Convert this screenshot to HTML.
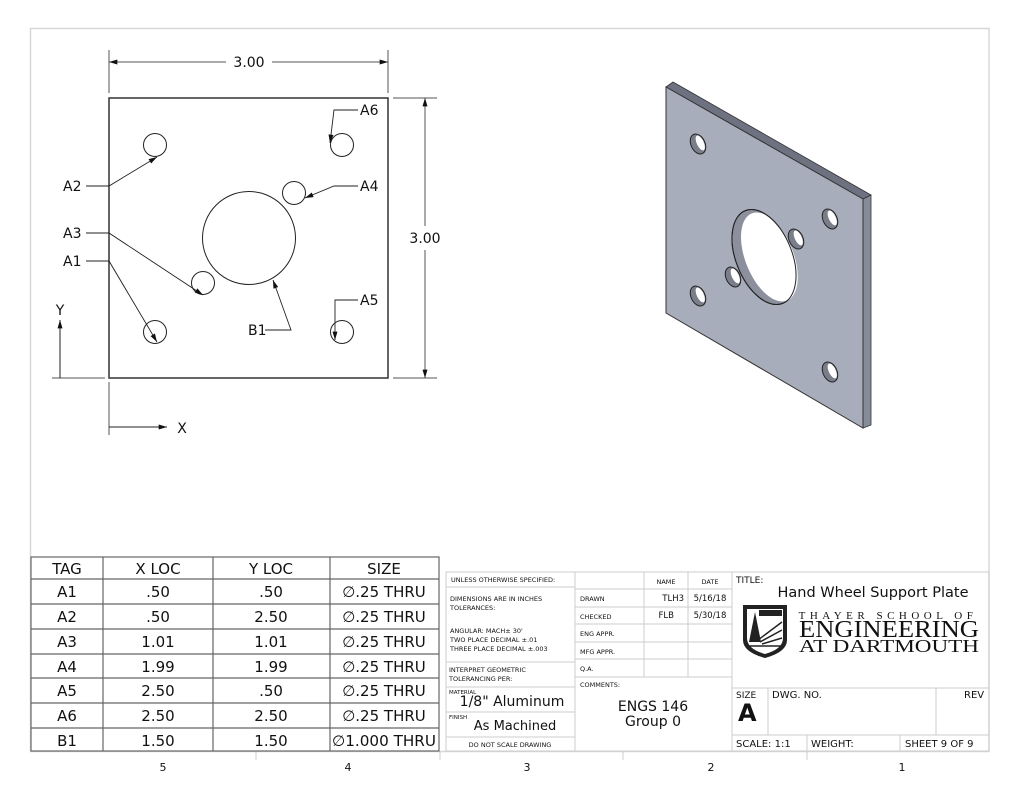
<!DOCTYPE html>
<html><head><meta charset="utf-8"><style>
html,body{margin:0;padding:0;background:#fff;}
svg{display:block;}
text{font-family:"DejaVu Sans","Liberation Sans",sans-serif;fill:#111;}
.s{font-family:"Liberation Serif",serif;}
</style></head><body>
<svg width="1024" height="791" viewBox="0 0 1024 791" xmlns="http://www.w3.org/2000/svg">
<defs>
<marker id="ar" viewBox="0 0 10 6" refX="10" refY="3" markerWidth="11" markerHeight="5" orient="auto-start-reverse" markerUnits="userSpaceOnUse"><path d="M0,0 L10,3 L0,6 z" fill="#111"/></marker>
</defs>
<!-- frame -->
<rect x="30.5" y="28.5" width="958.5" height="723" fill="none" stroke="#d8d8d8" stroke-width="1.5"/>
<!-- zone ticks -->
<g stroke="#ccc" stroke-width="1">
<line x1="256" y1="752" x2="256" y2="760"/><line x1="440" y1="752" x2="440" y2="760"/><line x1="623" y1="752" x2="623" y2="760"/><line x1="807" y1="752" x2="807" y2="760"/>
</g>
<g font-size="11" text-anchor="middle"><text x="163" y="771">5</text><text x="348" y="771">4</text><text x="527" y="771">3</text><text x="711" y="771">2</text><text x="902" y="771">1</text></g>

<!-- front view -->
<rect x="109" y="98" width="279" height="280" fill="none" stroke="#333" stroke-width="1.5"/>
<g fill="none" stroke="#222" stroke-width="1">
<circle cx="155" cy="145" r="11.5"/><circle cx="342" cy="145" r="11.5"/>
<circle cx="294" cy="193" r="11.5"/><circle cx="203" cy="283" r="11.5"/>
<circle cx="155" cy="332" r="11.5"/><circle cx="342" cy="332" r="11.5"/>
<circle cx="249" cy="238" r="46.5"/>
</g>
<!-- dimensions -->
<g stroke="#555" stroke-width="1" fill="none">
<line x1="109" y1="50" x2="109" y2="93"/><line x1="388" y1="50" x2="388" y2="93"/>
<line x1="109" y1="62" x2="226" y2="62" marker-start="url(#ar)"/><line x1="272" y1="62" x2="388" y2="62" marker-end="url(#ar)"/>
<line x1="393" y1="98" x2="437" y2="98"/><line x1="393" y1="378" x2="437" y2="378"/>
<line x1="425" y1="98" x2="425" y2="226" marker-start="url(#ar)"/><line x1="425" y1="250" x2="425" y2="378" marker-end="url(#ar)"/>
<line x1="52" y1="378" x2="105" y2="378"/><line x1="109" y1="382" x2="109" y2="435"/>
<line x1="60" y1="378" x2="60" y2="320" marker-end="url(#ar)" stroke="#222"/>
<line x1="109" y1="427" x2="167" y2="427" marker-end="url(#ar)" stroke="#222"/>
</g>
<g font-size="14"><text x="249" y="67" text-anchor="middle">3.00</text><text x="425" y="243" text-anchor="middle" style="paint-order:stroke" stroke="#fff" stroke-width="6">3.00</text>
<text x="60" y="315" text-anchor="middle">Y</text><text x="182" y="433" text-anchor="middle">X</text></g>
<!-- leaders -->
<g stroke="#222" stroke-width="0.9" fill="none">
<path d="M358,110 H334 L330,143" marker-end="url(#ar)"/>
<path d="M86,186 H109 L157,157" marker-end="url(#ar)"/>
<path d="M358,186 H334 L305,198" marker-end="url(#ar)"/>
<path d="M86,233 H109 L203,295" marker-end="url(#ar)"/>
<path d="M86,261 H109 L157,342" marker-end="url(#ar)"/>
<path d="M358,300 H335 L335,340" marker-end="url(#ar)"/>
<path d="M265,330 H291 L273,280" marker-end="url(#ar)"/>
</g>
<g font-size="14"><text x="360" y="115">A6</text><text x="360" y="191">A4</text><text x="360" y="305">A5</text>
<text x="63" y="191">A2</text><text x="63" y="238">A3</text><text x="63" y="266">A1</text><text x="248" y="335">B1</text></g>

<!-- iso view -->
<polygon points="666,87 673,82 871,195 863,199" fill="#6e7280" stroke="#333" stroke-width="0.8"/>
<polygon points="863,199 871,195 871,425 863,428" fill="#878c99" stroke="#333" stroke-width="0.8"/>
<polygon points="666,87 863,199 863,428 666,313" fill="#a7adbb" stroke="#333" stroke-width="1"/>
<g stroke="#222" stroke-width="1">
<g transform="translate(764,257) rotate(-22)"><ellipse rx="28" ry="50" fill="#8c909c"/><ellipse cx="5" cy="2" rx="24" ry="47" fill="#fff" stroke="none"/><ellipse rx="28" ry="50" fill="none"/></g>
<g transform="translate(698,144) rotate(-25)"><ellipse rx="7" ry="10.5" fill="#7a7e8a"/><ellipse cx="2.5" rx="3.5" ry="8" fill="#fff" stroke="none"/></g>
<g transform="translate(830,219) rotate(-25)"><ellipse rx="7" ry="10.5" fill="#7a7e8a"/><ellipse cx="2.5" rx="3.5" ry="8" fill="#fff" stroke="none"/></g>
<g transform="translate(796,239) rotate(-25)"><ellipse rx="7" ry="10.5" fill="#7a7e8a"/><ellipse cx="2.5" rx="3.5" ry="8" fill="#fff" stroke="none"/></g>
<g transform="translate(733,277) rotate(-25)"><ellipse rx="7" ry="10.5" fill="#7a7e8a"/><ellipse cx="2.5" rx="3.5" ry="8" fill="#fff" stroke="none"/></g>
<g transform="translate(698,296) rotate(-25)"><ellipse rx="7" ry="10.5" fill="#7a7e8a"/><ellipse cx="2.5" rx="3.5" ry="8" fill="#fff" stroke="none"/></g>
<g transform="translate(830,372) rotate(-25)"><ellipse rx="7" ry="10.5" fill="#7a7e8a"/><ellipse cx="2.5" rx="3.5" ry="8" fill="#fff" stroke="none"/></g>
</g>

<!-- hole table -->
<g stroke="#666" stroke-width="1.2" fill="none">
<rect x="31" y="557" width="408" height="194"/>
<line x1="103" y1="557" x2="103" y2="751"/><line x1="213" y1="557" x2="213" y2="751"/><line x1="330" y1="557" x2="330" y2="751"/>
<line x1="31" y1="579" x2="439" y2="579"/><line x1="31" y1="604" x2="439" y2="604"/><line x1="31" y1="629" x2="439" y2="629"/><line x1="31" y1="654" x2="439" y2="654"/><line x1="31" y1="678" x2="439" y2="678"/><line x1="31" y1="703" x2="439" y2="703"/><line x1="31" y1="728" x2="439" y2="728"/>
</g>
<g font-size="15" text-anchor="middle">
<text x="67" y="574">TAG</text><text x="158" y="574">X LOC</text><text x="271" y="574">Y LOC</text><text x="384" y="574">SIZE</text>
<text x="67" y="597">A1</text><text x="158" y="597">.50</text><text x="271" y="597">.50</text><text x="384" y="597">∅.25 THRU</text>
<text x="67" y="622">A2</text><text x="158" y="622">.50</text><text x="271" y="622">2.50</text><text x="384" y="622">∅.25 THRU</text>
<text x="67" y="647">A3</text><text x="158" y="647">1.01</text><text x="271" y="647">1.01</text><text x="384" y="647">∅.25 THRU</text>
<text x="67" y="672">A4</text><text x="158" y="672">1.99</text><text x="271" y="672">1.99</text><text x="384" y="672">∅.25 THRU</text>
<text x="67" y="696">A5</text><text x="158" y="696">2.50</text><text x="271" y="696">.50</text><text x="384" y="696">∅.25 THRU</text>
<text x="67" y="721">A6</text><text x="158" y="721">2.50</text><text x="271" y="721">2.50</text><text x="384" y="721">∅.25 THRU</text>
<text x="67" y="746">B1</text><text x="158" y="746">1.50</text><text x="271" y="746">1.50</text><text x="384" y="746" textLength="104" lengthAdjust="spacingAndGlyphs">∅1.000 THRU</text>
</g>

<!-- title block -->
<g stroke="#ccc" stroke-width="1" fill="none">
<rect x="446" y="572" width="543" height="179"/>
<line x1="575" y1="572" x2="575" y2="751"/><line x1="732" y1="572" x2="732" y2="751"/>
<line x1="644" y1="572" x2="644" y2="677"/><line x1="688" y1="572" x2="688" y2="677"/>
<line x1="446" y1="587" x2="575" y2="587"/>
<line x1="575" y1="589" x2="732" y2="589"/><line x1="575" y1="607" x2="732" y2="607"/><line x1="575" y1="624" x2="732" y2="624"/><line x1="575" y1="642" x2="732" y2="642"/><line x1="575" y1="659" x2="732" y2="659"/><line x1="575" y1="677" x2="732" y2="677"/>
<line x1="446" y1="662" x2="575" y2="662"/><line x1="446" y1="687" x2="575" y2="687"/><line x1="446" y1="712" x2="575" y2="712"/><line x1="446" y1="737" x2="575" y2="737"/>
<line x1="732" y1="688" x2="989" y2="688"/><line x1="732" y1="735" x2="989" y2="735"/>
<line x1="768" y1="688" x2="768" y2="735"/><line x1="936" y1="688" x2="936" y2="735"/>
<line x1="807" y1="735" x2="807" y2="751"/><line x1="900" y1="735" x2="900" y2="751"/>
</g>
<g font-size="6.5" fill="#222">
<text x="451" y="582">UNLESS OTHERWISE SPECIFIED:</text>
<text x="450" y="601">DIMENSIONS ARE IN INCHES</text><text x="450" y="610">TOLERANCES:</text>
<text x="450" y="633">ANGULAR: MACH±  30'</text><text x="450" y="642">TWO PLACE DECIMAL    ±.01</text><text x="450" y="651">THREE PLACE DECIMAL  ±.003</text>
<text x="449" y="672">INTERPRET GEOMETRIC</text><text x="449" y="681">TOLERANCING PER:</text>
<text x="449" y="694" font-size="5.5">MATERIAL</text><text x="449" y="719" font-size="5.5">FINISH</text>
<text x="510" y="747" text-anchor="middle">DO NOT SCALE DRAWING</text>
<text x="580" y="601">DRAWN</text><text x="580" y="619">CHECKED</text><text x="580" y="636">ENG APPR.</text><text x="580" y="654">MFG APPR.</text><text x="580" y="671">Q.A.</text><text x="580" y="687">COMMENTS:</text>
<text x="666" y="584" text-anchor="middle">NAME</text><text x="710" y="584" text-anchor="middle">DATE</text>
</g>
<g font-size="8.5"><text x="684" y="601" text-anchor="end">TLH3</text><text x="710" y="601" text-anchor="middle">5/16/18</text>
<text x="674" y="618" text-anchor="end">FLB</text><text x="710" y="618" text-anchor="middle">5/30/18</text></g>
<text x="512" y="706" font-size="14" text-anchor="middle">1/8" Aluminum</text>
<text x="515" y="730" font-size="13" text-anchor="middle">As Machined</text>
<text x="653" y="711" font-size="14" text-anchor="middle">ENGS 146</text>
<text x="653" y="726" font-size="14" text-anchor="middle">Group 0</text>
<text x="736" y="583" font-size="9">TITLE:</text>
<text x="873" y="597" font-size="14.5" text-anchor="middle">Hand Wheel Support Plate</text>
<!-- logo -->
<path d="M743,605 H787 V640 Q787,652 765,658 Q743,652 743,640 Z" fill="#222"/>
<path d="M747,609 H783 V638 Q783,649 765,654 Q747,649 747,638 Z" fill="#fff"/>
<rect x="759" y="610" width="23" height="6" fill="#222"/>
<path d="M755,612 L749,642 H761 Z" fill="#222"/>
<path d="M758,640 L782,622 M760,642 L782,630 M762,644 L782,638 M748,646 H782" stroke="#222" stroke-width="1.5"/>
<text x="888" y="619" class="s" font-size="11" text-anchor="middle" letter-spacing="4.5" fill="#555">THAYER SCHOOL OF</text>
<text x="889" y="637" class="s" font-size="24" text-anchor="middle" textLength="180" lengthAdjust="spacingAndGlyphs" fill="#333">ENGINEERING</text>
<text x="889" y="652" class="s" font-size="18" text-anchor="middle" textLength="180" lengthAdjust="spacingAndGlyphs" fill="#333">AT DARTMOUTH</text>
<text x="736" y="698" font-size="9">SIZE</text>
<text x="738" y="721" font-size="24" font-weight="bold">A</text>
<text x="772" y="698" font-size="10">DWG.  NO.</text>
<text x="964" y="698" font-size="10">REV</text>
<text x="736" y="747" font-size="10">SCALE: 1:1</text>
<text x="811" y="747" font-size="10">WEIGHT:</text>
<text x="905" y="747" font-size="10">SHEET 9 OF 9</text>
</svg>
</body></html>
